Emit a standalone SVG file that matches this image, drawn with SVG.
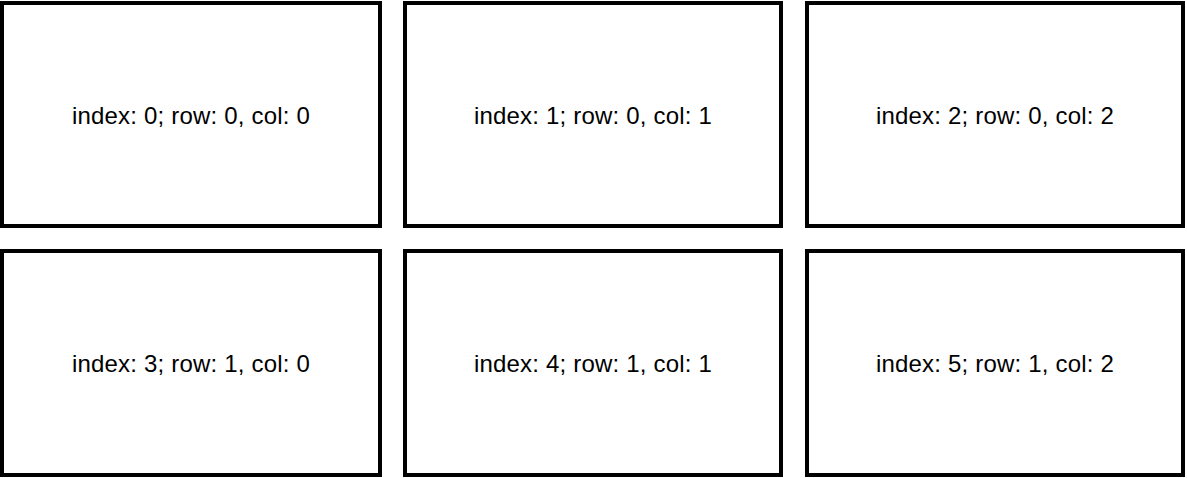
<svg xmlns="http://www.w3.org/2000/svg" width="1187" height="478" viewBox="0 0 1187 478">
<style>
.box{fill:#fff;stroke:#000;stroke-width:4}
.lbl{font-family:"Liberation Sans",Arial,sans-serif;font-size:24px;letter-spacing:0.2px;fill:#000;text-anchor:middle}
</style>
<rect width="1187" height="478" fill="#fff"/>
<g id="n0"><rect class="box" x="2" y="3" width="378" height="223"/><text class="lbl" x="191" y="124">index: 0; row: 0, col: 0</text></g>
<g id="n1"><rect class="box" x="405" y="3" width="376" height="223"/><text class="lbl" x="593" y="124">index: 1; row: 0, col: 1</text></g>
<g id="n2"><rect class="box" x="807" y="3" width="376" height="223"/><text class="lbl" x="995" y="124">index: 2; row: 0, col: 2</text></g>
<g id="n3"><rect class="box" x="2" y="251" width="378" height="224"/><text class="lbl" x="191" y="372">index: 3; row: 1, col: 0</text></g>
<g id="n4"><rect class="box" x="405" y="251" width="376" height="224"/><text class="lbl" x="593" y="372">index: 4; row: 1, col: 1</text></g>
<g id="n5"><rect class="box" x="807" y="251" width="376" height="224"/><text class="lbl" x="995" y="372">index: 5; row: 1, col: 2</text></g>
<g id="connectors"></g>
</svg>
